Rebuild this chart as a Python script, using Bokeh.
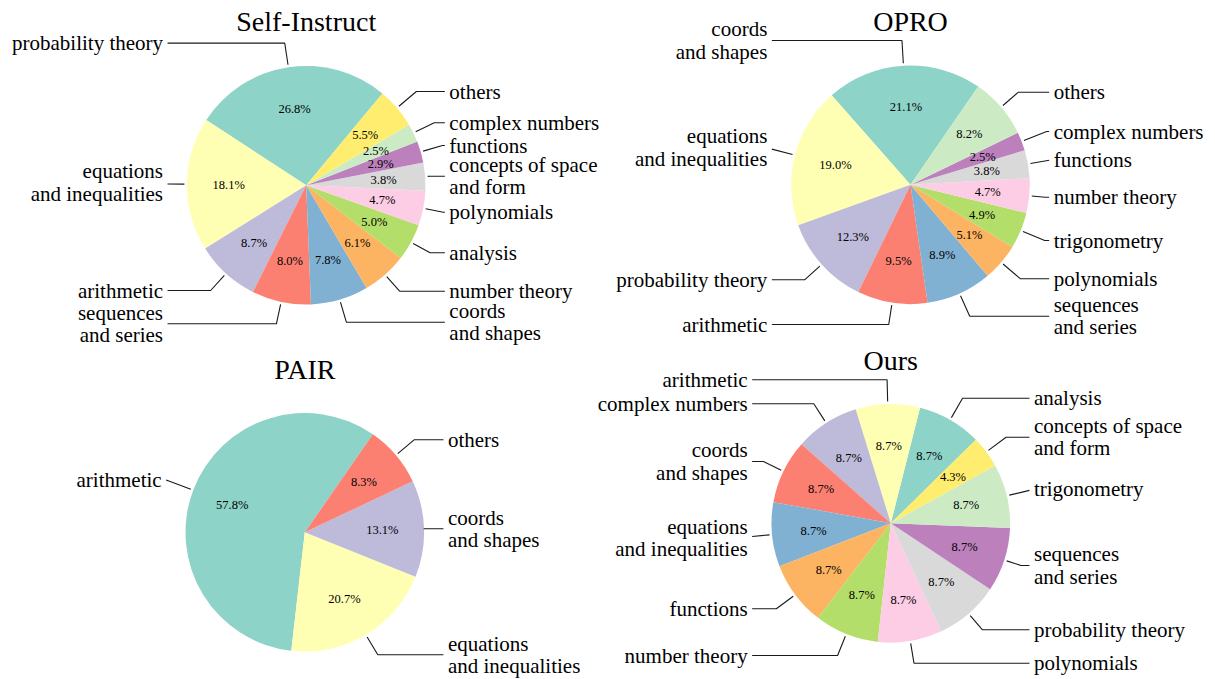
import numpy as np
from bokeh.plotting import figure
from bokeh.models import Range1d, ColumnDataSource
from bokeh.core.properties import value
from bokeh.embed import file_html
from bokeh.resources import INLINE

# ---------------- data ----------------
si_labels = ["probability theory", "equations\nand inequalities", "arithmetic",
             "sequences\nand series", "coords\nand shapes", "number theory",
             "analysis", "polynomials", "concepts of space\nand form",
             "functions", "complex numbers", "others"]
si_values = [26.8, 18.1, 8.7, 8.0, 7.8, 6.1, 5.0, 4.7, 3.8, 2.9, 2.5, 5.5]

opro_labels = ["coords\nand shapes", "equations\nand inequalities", "probability theory",
               "arithmetic", "sequences\nand series", "polynomials", "trigonometry",
               "number theory", "functions", "complex numbers", "others"]
opro_values = [21.1, 19.0, 12.3, 9.5, 8.9, 5.1, 4.9, 4.7, 3.8, 2.5, 8.2]

pair_labels = ["arithmetic", "equations\nand inequalities", "coords\nand shapes", "others"]
pair_values = [57.8, 20.7, 13.1, 8.3]

ours_labels = ["analysis", "arithmetic", "complex numbers", "coords\nand shapes",
               "equations\nand inequalities", "functions", "number theory",
               "polynomials", "probability theory", "sequences\nand series",
               "trigonometry", "concepts of space\nand form"]
ours_values = [8.7, 8.7, 8.7, 8.7, 8.7, 8.7, 8.7, 8.7, 8.7, 8.7, 8.7, 4.3]

titles = ["Self-Instruct", "OPRO", "PAIR", "Ours"]

# ---------------- layout / style ----------------
SET3 = ["#8dd3c7", "#ffffb3", "#bebada", "#fb8072", "#80b1d3", "#fdb462",
        "#b3de69", "#fccde5", "#d9d9d9", "#bc80bd", "#ccebc5", "#ffed6f"]
FONT = value("Liberation Serif")
R = 119.3
LABEL_PX = 21
LINE_GAP = 22.3
PCT_PX = 12.5
TITLE_PX = 28

layout = [
    dict(cx=305.7, cy=184.7, start=50.3,
         ly=[42.6, 182.0, 290.0, 323.3, 321.7, 290.7, 252.3, 211.7, 175.7, 145.0, 122.3, 91.0]),
    dict(cx=910.0, cy=184.3, start=55.4,
         ly=[40.0, 147.0, 279.3, 324.0, 315.7, 278.3, 240.0, 196.7, 159.0, 131.0, 91.7]),
    dict(cx=304.3, cy=531.8, start=55.2,
         ly=[479.5, 654.3, 528.3, 439.3]),
    dict(cx=890.3, cy=522.8, start=44.5,
         ly=[397.7, 379.3, 403.3, 461.0, 537.7, 608.3, 655.0, 662.7, 629.3, 565.0, 488.3, 436.7]),
]
datasets = [(si_labels, si_values), (opro_labels, opro_values),
            (pair_labels, pair_values), (ours_labels, ours_values)]

W, H = 1215, 679
p = figure(width=W, height=H, x_range=Range1d(0, W), y_range=Range1d(-H, 0),
           output_backend="svg", toolbar_location=None, min_border=0)
p.axis.visible = False
p.grid.visible = False
p.outline_line_color = None
p.background_fill_color = "white"

for (labels, values), lay, title in zip(datasets, layout, titles):
    cx, cy, start = lay["cx"], -lay["cy"], lay["start"]
    vals = np.array(values, dtype=float)
    frac = vals / vals.sum()
    ends = start + np.cumsum(frac) * 360.0
    starts = ends - frac * 360.0
    mids = np.radians((starts + ends) / 2.0)
    cols = SET3[:len(vals)]

    src = ColumnDataSource(dict(start=np.radians(starts), end=np.radians(ends), color=cols))
    p.wedge(x=cx, y=cy, radius=R, start_angle="start", end_angle="end",
            fill_color="color", line_color=None, source=src)

    # percentage labels
    p.text(x=list(cx + 0.65 * R * np.cos(mids)), y=list(cy + 0.65 * R * np.sin(mids)),
           text=["%.1f%%" % v for v in values], text_align="center", text_baseline="middle",
           text_font=FONT, text_font_size="%.1fpx" % PCT_PX, text_color="black")

    # title
    p.text(x=[cx], y=[cy + R + 44.0], text=[title], text_align="center",
           text_baseline="middle", text_font=FONT, text_font_size="%dpx" % TITLE_PX,
           text_color="black")

    # category labels + leader lines
    xs, ys = [], []
    tx, ty, tt, ta = [], [], [], []
    for lab, a, lyi in zip(labels, mids, lay["ly"]):
        side = 1 if np.cos(a) >= 0 else -1
        ly = -lyi
        text_x = cx + side * 1.2 * R
        line_start = text_x - side * 4.5
        ex, ey = cx + R * np.cos(a), cy + R * np.sin(a)
        exs, eys = cx + (R + 2.5) * np.cos(a), cy + (R + 2.5) * np.sin(a)
        if abs(np.sin(a)) > 1e-6:
            t = (ly - ey) / np.sin(a)
        else:
            t = 0.0
        corner_x = ex + t * np.cos(a)
        if (corner_x - line_start) * side > 0:
            tp = (line_start - ex) / np.cos(a)
            xs.append([line_start, exs])
            ys.append([ey + tp * np.sin(a), eys])
        else:
            xs.append([line_start, corner_x, exs])
            ys.append([ly, ly, eys])
        parts = lab.split("\n")
        n = len(parts)
        for k, part in enumerate(parts):
            tx.append(text_x)
            ty.append(ly - (k - (n - 1) / 2.0) * LINE_GAP)
            tt.append(part)
            ta.append("left" if side > 0 else "right")
    p.multi_line(xs=xs, ys=ys, line_color="#1a1a1a", line_width=1.1)
    p.text(x=tx, y=ty, text=tt, text_align=ta, text_baseline="middle",
           text_font=FONT, text_font_size="%dpx" % LABEL_PX, text_color="black")

open("out.html", "w").write(file_html(p, INLINE))
